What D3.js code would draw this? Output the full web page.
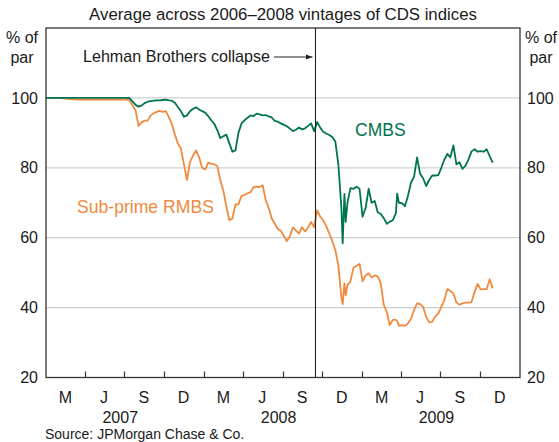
<!DOCTYPE html>
<html>
<head>
<meta charset="utf-8">
<script src="https://cdn.jsdelivr.net/npm/d3@7"></script>
<style>
  html, body { margin: 0; padding: 0; background: #fff; }
  svg { display: block; }
  svg text { font-family: "Liberation Sans", Arial, Helvetica, sans-serif; }
</style>
</head>
<body>
<svg id="chart" width="559" height="442"></svg>
<script>
/* CDS index prices, CMBS vs sub-prime RMBS, 2007-2009.
 * Values, roughly weekly.
 */
var dates = [
    "2007-01-01", "2007-02-01", "2007-02-20", "2007-03-15", "2007-04-15", "2007-05-15", "2007-06-15",
    "2007-07-06", "2007-07-13", "2007-07-20", "2007-07-27", "2007-08-03", "2007-08-10", "2007-08-17",
    "2007-08-24", "2007-08-31", "2007-09-07", "2007-09-14", "2007-09-21", "2007-09-28", "2007-10-05",
    "2007-10-12", "2007-10-19", "2007-10-26", "2007-11-02", "2007-11-09", "2007-11-16", "2007-11-23",
    "2007-11-30", "2007-12-07", "2007-12-14", "2007-12-21", "2007-12-28", "2008-01-04", "2008-01-11",
    "2008-01-18", "2008-01-25", "2008-02-01", "2008-02-08", "2008-02-15", "2008-02-22", "2008-02-29",
    "2008-03-07", "2008-03-14", "2008-03-21", "2008-03-28", "2008-04-04", "2008-04-11", "2008-04-18",
    "2008-04-25", "2008-05-02", "2008-05-09", "2008-05-16", "2008-05-23", "2008-05-30", "2008-06-06",
    "2008-06-13", "2008-06-20", "2008-06-27", "2008-07-04", "2008-07-11", "2008-07-18", "2008-07-25",
    "2008-08-01", "2008-08-08", "2008-08-15", "2008-08-22", "2008-08-29", "2008-09-05", "2008-09-12",
    "2008-09-19", "2008-09-26", "2008-10-03", "2008-10-10", "2008-10-17", "2008-10-24", "2008-10-31",
    "2008-11-07", "2008-11-14", "2008-11-17", "2008-11-21", "2008-11-24", "2008-11-28", "2008-12-05",
    "2008-12-12", "2008-12-19", "2008-12-26", "2009-01-02", "2009-01-09", "2009-01-16", "2009-01-23",
    "2009-01-30", "2009-02-06", "2009-02-13", "2009-02-20", "2009-02-27", "2009-03-06", "2009-03-13",
    "2009-03-20", "2009-03-23", "2009-03-27", "2009-04-03", "2009-04-10", "2009-04-17", "2009-04-24",
    "2009-05-01", "2009-05-08", "2009-05-15", "2009-05-22", "2009-05-29", "2009-06-05", "2009-06-12",
    "2009-06-19", "2009-06-26", "2009-07-03", "2009-07-10", "2009-07-17", "2009-07-24", "2009-07-31",
    "2009-08-07", "2009-08-14", "2009-08-21", "2009-08-28", "2009-09-04", "2009-09-11", "2009-09-18",
    "2009-09-25", "2009-10-02", "2009-10-09", "2009-10-16", "2009-10-23", "2009-10-30"
];

var cmbs = [
    100, 100, 100, 100, 100, 100, 100,
    100, 99.9, 99.0, 98.0, 97.5, 97.8, 98.5,
    98.9, 99.1, 99.2, 99.3, 99.3, 99.4, 99.5,
    99.3, 99.2, 98.6, 97.4, 96.2, 94.6, 95.0,
    96.2, 96.9, 97.3, 96.7, 96.2, 95.8, 94.8,
    93.6, 92.6, 90.8, 88.5, 89.0, 89.5, 87.0,
    84.6, 85.0, 90.0, 92.7, 93.6, 94.3, 95.0,
    94.8, 95.5, 95.3, 95.0, 95.1, 94.7, 94.4,
    93.4, 93.2, 92.7, 92.3, 91.9, 91.2, 90.5,
    90.9, 91.5, 91.0, 91.3, 92.0, 92.7, 90.5,
    93.1, 91.5, 90.3, 89.8, 89.4, 88.8, 87.5,
    81.0, 68.5, 58.4, 72.5, 64.5, 70.0, 74.2,
    74.0, 74.6, 74.0, 66.0, 68.5, 74.0, 70.0,
    70.5, 67.3, 66.8, 65.6, 64.0, 64.6, 65.0,
    67.0, 72.6, 70.0, 69.9, 69.0, 72.0, 75.8,
    77.4, 83.0, 78.3, 77.0, 74.8, 76.5, 77.8,
    77.8, 77.9, 80.0, 82.3, 84.0, 83.0, 86.4,
    81.0, 81.6, 79.7, 80.6, 82.4, 84.7, 85.3,
    84.6, 84.8, 84.6, 85.3, 83.3, 81.5
];

var rmbs = [
    100, 100, 99.7, 99.5, 99.5, 99.5, 99.5,
    99.5, 99.3, 97.9, 96.5, 92.0, 93.0, 93.5,
    93.5, 95.0, 95.6, 96.0, 96.3, 96.0, 96.2,
    94.5, 92.5, 89.5, 87.0, 85.5, 81.0, 76.5,
    81.7, 83.5, 85.0, 83.0, 80.0, 79.5, 81.5,
    81.2, 81.0, 80.5, 76.5, 73.5, 69.0, 65.0,
    65.5, 69.5, 69.5, 72.0, 72.2, 72.7, 73.0,
    74.5, 74.6, 74.5, 75.0, 70.8, 68.5, 65.5,
    64.0, 62.5, 62.0, 60.5, 59.0, 60.5, 63.0,
    62.0, 61.2, 63.0, 61.8, 63.0, 64.5, 63.0,
    67.8, 66.0, 65.0, 63.3, 61.2, 59.0, 56.5,
    52.0, 43.0, 41.0, 47.0, 43.5, 46.5, 47.5,
    51.5, 52.0, 52.5, 47.5, 49.2, 49.8, 48.6,
    49.2, 48.9, 47.0, 40.8, 38.8, 35.0, 36.5,
    36.5, 36.2, 34.8, 35.0, 34.8, 35.5, 36.8,
    39.3, 41.2, 41.0, 40.2, 37.4, 35.8, 35.9,
    37.5, 38.3, 40.2, 42.1, 45.3, 44.8, 44.0,
    41.5, 40.8, 41.2, 41.4, 41.4, 41.6, 44.5,
    46.8, 45.2, 45.3, 45.3, 48.1, 45.5
];

var yTicks = [20, 40, 60, 80, 100];
var quarterLabels = ["M", "J", "S", "D"];
var years = ["2007", "2008", "2009"];
var lehmanDate = "2008-09-15";

(function () {
    "use strict";

    var svg = d3.select("#chart");
    var left = 46, right = 520, top = 28, bottom = 377.5;
    var green = "#00744f", orange = "#f08a3e", ink = "#1a1a1a";
    var parse = d3.timeParse("%Y-%m-%d");

    var x = d3.scaleTime()
        .domain([new Date(2007, 0, 1), new Date(2010, 0, 1)])
        .range([left, right]);
    var y = d3.scaleLinear().domain([20, 120]).range([bottom, top]);

    // gridlines
    svg.append("g")
        .selectAll("line")
        .data(yTicks.filter(function (d) { return d > 20; }))
        .join("line")
        .attr("x1", left).attr("x2", right)
        .attr("y1", function (d) { return y(d); })
        .attr("y2", function (d) { return y(d); })
        .attr("stroke", "#cfd0d2")
        .attr("stroke-width", 1.2);

    // y labels, both sides
    var yl = svg.append("g").attr("font-size", 16).attr("fill", ink);
    yl.selectAll("text.l")
        .data(yTicks).join("text").attr("class", "l")
        .attr("x", left - 8).attr("y", function (d) { return y(d); })
        .attr("dy", "0.35em").attr("text-anchor", "end")
        .text(function (d) { return d; });
    yl.selectAll("text.r")
        .data(yTicks).join("text").attr("class", "r")
        .attr("x", right + 7).attr("y", function (d) { return y(d); })
        .attr("dy", "0.35em").attr("text-anchor", "start")
        .text(function (d) { return d; });

    [22, 541].forEach(function (cx) {
        yl.append("text").attr("x", cx).attr("y", 43).attr("text-anchor", "middle").text("% of");
        yl.append("text").attr("x", cx).attr("y", 63).attr("text-anchor", "middle").text("par");
    });

    // lines
    var pts = dates.map(function (d) { return parse(d); });
    var line = d3.line()
        .x(function (d, i) { return x(pts[i]); })
        .y(function (d) { return y(d); });

    svg.append("path")
        .attr("d", line(rmbs))
        .attr("fill", "none").attr("stroke", orange)
        .attr("stroke-width", 1.8).attr("stroke-linejoin", "round");
    svg.append("path")
        .attr("d", line(cmbs))
        .attr("fill", "none").attr("stroke", green)
        .attr("stroke-width", 1.8).attr("stroke-linejoin", "round");

    // frame
    svg.append("rect")
        .attr("x", left).attr("y", top)
        .attr("width", right - left).attr("height", bottom - top)
        .attr("fill", "none").attr("stroke", "#333").attr("stroke-width", 1.3);

    // Lehman marker
    var lx = Math.round(x(parse(lehmanDate))) + 0.5;
    svg.append("line")
        .attr("x1", lx).attr("x2", lx).attr("y1", top).attr("y2", bottom)
        .attr("stroke", "#222").attr("stroke-width", 1.1);

    svg.append("defs").append("marker")
        .attr("id", "arrow").attr("viewBox", "0 0 10 10")
        .attr("refX", 10).attr("refY", 5)
        .attr("markerWidth", 7).attr("markerHeight", 7)
        .attr("markerUnits", "userSpaceOnUse")
        .attr("orient", "auto")
        .append("path").attr("d", "M0,1L10,5L0,9Z").attr("fill", "#222");

    svg.append("line")
        .attr("x1", 274).attr("x2", lx - 3).attr("y1", 57).attr("y2", 57)
        .attr("stroke", "#222").attr("stroke-width", 1.2)
        .attr("marker-end", "url(#arrow)");
    svg.append("text")
        .attr("x", 270).attr("y", 62).attr("text-anchor", "end")
        .attr("font-size", 16.1).attr("fill", ink)
        .text("Lehman Brothers collapse");

    // x axis: ticks at quarter boundaries, labels mid-quarter
    var quarters = d3.timeMonth.every(3).range(new Date(2007, 0, 1), new Date(2010, 0, 1));
    svg.append("g")
        .selectAll("line")
        .data(quarters.slice(1))
        .join("line")
        .attr("x1", function (d) { return Math.round(x(d)) + 0.5; })
        .attr("x2", function (d) { return Math.round(x(d)) + 0.5; })
        .attr("y1", bottom).attr("y2", bottom - 6)
        .attr("stroke", "#333").attr("stroke-width", 1.2);

    var xl = svg.append("g").attr("font-size", 16).attr("fill", ink).attr("text-anchor", "middle");
    xl.selectAll("text.q")
        .data(quarters).join("text").attr("class", "q")
        .attr("x", function (d) { return x(new Date(d.getFullYear(), d.getMonth() + 1, 15)); })
        .attr("y", 403)
        .text(function (d) { return quarterLabels[d.getMonth() / 3]; });
    xl.selectAll("text.yr")
        .data(years).join("text").attr("class", "yr")
        .attr("x", function (d) { return x(new Date(+d, 6, 1)) - 4; })
        .attr("y", 422.5)
        .text(function (d) { return d; });

    // series labels
    svg.append("text").attr("x", 355).attr("y", 136)
        .attr("font-size", 17.5).attr("fill", green).text("CMBS");
    svg.append("text").attr("x", 77).attr("y", 213)
        .attr("font-size", 17.6).attr("fill", orange).text("Sub-prime RMBS");

    // title and source
    svg.append("text").attr("x", (left + right) / 2).attr("y", 20)
        .attr("text-anchor", "middle").attr("font-size", 16.8).attr("fill", ink)
        .text("Average across 2006\u20132008 vintages of CDS indices");
    svg.append("text").attr("x", 45).attr("y", 438.5)
        .attr("font-size", 14).attr("fill", ink)
        .text("Source: JPMorgan Chase & Co.");
})();
</script>
</body>
</html>
